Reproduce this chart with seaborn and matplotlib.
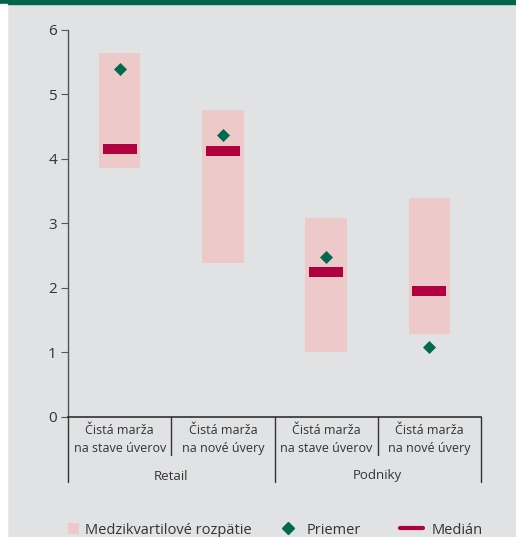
import numpy as np
import pandas as pd
import matplotlib
matplotlib.use("Agg")
import matplotlib.pyplot as plt
import matplotlib.transforms as mtransforms
from matplotlib.lines import Line2D
from matplotlib.patches import Patch, Rectangle
from matplotlib.path import Path
import seaborn as sns

# --- data -------------------------------------------------------------
categories = ["Čistá marža\nna stave úverov", "Čistá marža\nna nové úvery",
              "Čistá marža\nna stave úverov", "Čistá marža\nna nové úvery"]
groups = ["Retail", "Podniky"]
q1 = [3.86, 2.38, 1.00, 1.29]        # lower quartile
q3 = [5.63, 4.75, 3.08, 3.39]        # upper quartile
medians = [4.15, 4.12, 2.25, 1.95]
means = [5.39, 4.37, 2.47, 1.08]
yticks = [0, 1, 2, 3, 4, 5, 6]
legend_labels = ["Medzikvartilové rozpätie", "Priemer", "Medián"]

df = pd.DataFrame({"pos": np.arange(len(categories)), "q1": q1, "q3": q3,
                   "median": medians, "mean": means})

# --- style ------------------------------------------------------------
BG = "#e1e2e4"
PINK = "#eec9c9"
RED = "#b0003f"
GREEN = "#006a4e"
TXT = "#333333"

sns.set_theme(style="white")
plt.rcParams["font.family"] = ["Open Sans", "DejaVu Sans"]
plt.rcParams["text.color"] = TXT

fig = plt.figure(figsize=(5.16, 5.37), dpi=100, facecolor=BG)
ax = fig.add_axes([68 / 516, 120 / 537, 413 / 516, 387.5 / 537])
ax.set_facecolor(BG)

# interquartile range boxes
ax.bar(df["pos"], df["q3"] - df["q1"], bottom=df["q1"], width=0.4,
       color=PINK, linewidth=0, zorder=1)

# median as a flat bar marker
med_marker = Path([(-1, -0.26), (1, -0.26), (1, 0.26), (-1, 0.26), (-1, -0.26)],
                  [Path.MOVETO, Path.LINETO, Path.LINETO, Path.LINETO, Path.CLOSEPOLY])
sns.scatterplot(data=df, x="pos", y="median", marker=med_marker, s=635,
                color=RED, linewidth=0, ax=ax, zorder=3, legend=False)

# mean as diamonds
sns.scatterplot(data=df, x="pos", y="mean", marker="D", s=44,
                color=GREEN, linewidth=0, ax=ax, zorder=4, legend=False)

ax.set_xlim(-0.5, len(categories) - 0.5)
ax.set_ylim(0, 6)
ax.set_yticks(yticks)
ax.set_yticklabels([str(t) for t in yticks])
ax.set_xticks(df["pos"])
ax.set_xticklabels(categories, fontsize=9, linespacing=1.55)
ax.set_xlabel("")
ax.set_ylabel("")

for s in ["top", "right"]:
    ax.spines[s].set_visible(False)
ax.spines["left"].set_color("#555555")
ax.spines["left"].set_linewidth(1.0)
ax.spines["bottom"].set_color("#222222")
ax.spines["bottom"].set_linewidth(1.1)
ax.tick_params(axis="y", direction="out", length=5, width=0.8, color="#555555",
               labelcolor=TXT, labelsize=11, pad=3, left=True)
ax.tick_params(axis="x", length=0, labelcolor=TXT, pad=5)

# category dividers and group brackets below the axis
trans = mtransforms.blended_transform_factory(ax.transData, ax.transAxes)
short_len = 38 / 387.5
long_len = 65 / 387.5
for x, length in [(-0.5, long_len), (0.5, short_len), (1.5, long_len),
                  (2.5, short_len), (3.5, long_len)]:
    ax.plot([x, x], [0, -length], transform=trans, clip_on=False,
            color="#333333", lw=1.0)
for gi, g in enumerate(groups):
    ax.text(gi * 2 + 0.5, -(59 / 387.5), g, transform=trans,
            ha="center", va="center", fontsize=9.5, color=TXT)

# header band and left margin
fig.patches.append(Rectangle((0, 1 - 4 / 537), 1, 4 / 537, transform=fig.transFigure,
                             color="#00644a", zorder=10))
fig.patches.append(Rectangle((0, 0), 7 / 516, 1 - 4 / 537, transform=fig.transFigure,
                             color="white", zorder=10))

# legend entries
handles = [Patch(facecolor=PINK, edgecolor="none"),
           Line2D([], [], marker="D", linestyle="none", color=GREEN, markersize=6.5),
           Line2D([], [], color=RED, lw=3)]
anchors = [68 / 516, 282 / 516, 400 / 516]
hlens = [0.75, 0.8, 1.58]
hpads = [0.41, 0.9, 0.62]
for h, lab, xa, hl, hp in zip(handles, legend_labels, anchors, hlens, hpads):
    fig.legend([h], [lab], loc="center left", bbox_to_anchor=(xa, 7 / 537),
               frameon=False, fontsize=10.5, handlelength=hl,
               handletextpad=hp, borderpad=0, borderaxespad=0)

fig.savefig("out.png", dpi=100, facecolor=BG)
